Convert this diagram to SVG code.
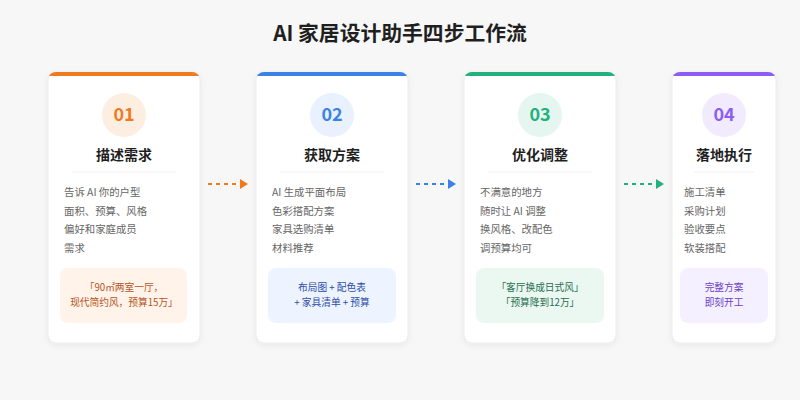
<svg xmlns="http://www.w3.org/2000/svg" width="800" height="400" viewBox="0 0 800 400">
<defs>
<filter id="sh" x="-20%" y="-20%" width="140%" height="140%"><feDropShadow dx="0" dy="2" stdDeviation="3" flood-color="#000" flood-opacity="0.06"/></filter>
<clipPath id="c1"><rect x="48" y="72" width="152" height="271" rx="8"/></clipPath>
<clipPath id="c2"><rect x="256" y="72" width="152" height="271" rx="8"/></clipPath>
<clipPath id="c3"><rect x="464" y="72" width="152" height="271" rx="8"/></clipPath>
<clipPath id="c4"><rect x="672" y="72" width="104" height="271" rx="8"/></clipPath>
<marker id="mo" markerWidth="8" markerHeight="10" refX="8" refY="5" orient="auto" markerUnits="userSpaceOnUse"><path d="M0,0 L8,5 L0,10 Z" fill="#f07a1e"/></marker>
<marker id="mb" markerWidth="8" markerHeight="10" refX="8" refY="5" orient="auto" markerUnits="userSpaceOnUse"><path d="M0,0 L8,5 L0,10 Z" fill="#3b82e8"/></marker>
<marker id="mg" markerWidth="8" markerHeight="10" refX="8" refY="5" orient="auto" markerUnits="userSpaceOnUse"><path d="M0,0 L8,5 L0,10 Z" fill="#22b07d"/></marker>
</defs>
<style>
text{font-family:"Noto Sans CJK SC","Noto Sans",sans-serif}
.card{fill:#fff;stroke:#ececec;stroke-width:1}
.num{font-size:18px;font-weight:700;text-anchor:middle}
.ttl{font-size:14px;font-weight:700;fill:#1f1f1f;text-anchor:middle}
.div{stroke:#f0f0f0;stroke-width:1}
.body{font-size:10.4px;fill:#666}
.note{font-size:9.7px;text-anchor:middle}
.conn{stroke-width:2;stroke-dasharray:4 4;fill:none}
</style>
<rect width="800" height="400" fill="#f7f7f7"/>
<text x="400" y="41" text-anchor="middle" font-size="20.8" font-weight="700" fill="#1f1f1f">AI 家居设计助手四步工作流</text>

<g id="step1">
<rect class="card" x="48" y="72" width="152" height="271" rx="8" filter="url(#sh)"/>
<rect x="48" y="72" width="152" height="4" fill="#f07a1e" clip-path="url(#c1)"/>
<circle cx="124" cy="115" r="22" fill="#fdeee2"/>
<text class="num" x="124" y="121" fill="#f07a1e">01</text>
<text class="ttl" x="124" y="160">描述需求</text>
<line class="div" x1="72" y1="172" x2="176" y2="172"/>
<text class="body" x="64" y="196">告诉 AI 你的户型</text>
<text class="body" x="64" y="214.5">面积、预算、风格</text>
<text class="body" x="64" y="233">偏好和家庭成员</text>
<text class="body" x="64" y="251.5">需求</text>
<rect x="60" y="268" width="127" height="55" rx="8" fill="#fff3ea"/>
<text class="note" x="124" y="290.5" fill="#b5541c">「90㎡两室一厅，</text>
<text class="note" x="124" y="305.5" fill="#b5541c">现代简约风，预算15万」</text>
</g>

<g id="step2">
<rect class="card" x="256" y="72" width="152" height="271" rx="8" filter="url(#sh)"/>
<rect x="256" y="72" width="152" height="4" fill="#3b82e8" clip-path="url(#c2)"/>
<circle cx="332" cy="115" r="22" fill="#e8f1fd"/>
<text class="num" x="332" y="121" fill="#3b82e8">02</text>
<text class="ttl" x="332" y="160">获取方案</text>
<line class="div" x1="280" y1="172" x2="384" y2="172"/>
<text class="body" x="272" y="196">AI 生成平面布局</text>
<text class="body" x="272" y="214.5">色彩搭配方案</text>
<text class="body" x="272" y="233">家具选购清单</text>
<text class="body" x="272" y="251.5">材料推荐</text>
<rect x="268" y="268" width="128" height="55" rx="8" fill="#eef4ff"/>
<text class="note" x="332" y="290.5" fill="#2b4ca8">布局图 + 配色表</text>
<text class="note" x="332" y="305.5" fill="#2b4ca8">+ 家具清单 + 预算</text>
</g>

<g id="step3">
<rect class="card" x="464" y="72" width="152" height="271" rx="8" filter="url(#sh)"/>
<rect x="464" y="72" width="152" height="4" fill="#22b07d" clip-path="url(#c3)"/>
<circle cx="540" cy="115" r="22" fill="#e4f6ef"/>
<text class="num" x="540" y="121" fill="#22b07d">03</text>
<text class="ttl" x="540" y="160">优化调整</text>
<line class="div" x1="488" y1="172" x2="592" y2="172"/>
<text class="body" x="480" y="196">不满意的地方</text>
<text class="body" x="480" y="214.5">随时让 AI 调整</text>
<text class="body" x="480" y="233">换风格、改配色</text>
<text class="body" x="480" y="251.5">调预算均可</text>
<rect x="476" y="268" width="128" height="55" rx="8" fill="#ebf8f2"/>
<text class="note" x="540" y="290.5" fill="#1f6e4e">「客厅换成日式风」</text>
<text class="note" x="540" y="305.5" fill="#1f6e4e">「预算降到12万」</text>
</g>

<g id="step4">
<rect class="card" x="672" y="72" width="104" height="271" rx="8" filter="url(#sh)"/>
<rect x="672" y="72" width="104" height="4" fill="#8b5cf6" clip-path="url(#c4)"/>
<circle cx="724" cy="115" r="22" fill="#f1ebfd"/>
<text class="num" x="724" y="121" fill="#8b5cf6">04</text>
<text class="ttl" x="724" y="160">落地执行</text>
<line class="div" x1="694" y1="172" x2="754" y2="172"/>
<text class="body" x="684" y="196">施工清单</text>
<text class="body" x="684" y="214.5">采购计划</text>
<text class="body" x="684" y="233">验收要点</text>
<text class="body" x="684" y="251.5">软装搭配</text>
<rect x="680" y="268" width="88" height="55" rx="8" fill="#f5f0ff"/>
<text class="note" x="724" y="290.5" fill="#6b3fc8">完整方案</text>
<text class="note" x="724" y="305.5" fill="#6b3fc8">即刻开工</text>
</g>

<g id="connectors">
<line class="conn" x1="208" y1="184" x2="248" y2="184" stroke="#f07a1e" marker-end="url(#mo)"/>
<line class="conn" x1="416" y1="184" x2="456" y2="184" stroke="#3b82e8" marker-end="url(#mb)"/>
<line class="conn" x1="624" y1="184" x2="664" y2="184" stroke="#22b07d" marker-end="url(#mg)"/>
</g>
</svg>
